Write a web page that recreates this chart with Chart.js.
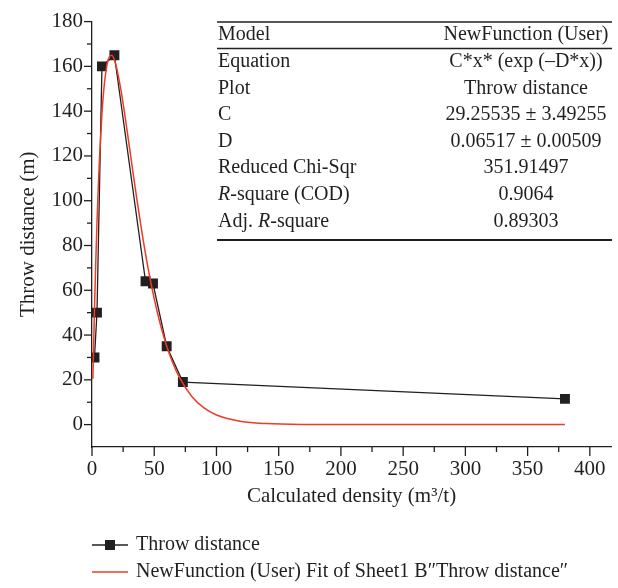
<!DOCTYPE html>
<html>
<head>
<meta charset="UTF-8">
<title>Throw distance fit</title>
<script src="https://cdn.jsdelivr.net/npm/chart.js@4.4.0/dist/chart.umd.min.js"></script>
<style>
  html, body { margin: 0; padding: 0; background: #ffffff; }
  #chart_box { width: 618px; height: 588px; }
</style>
</head>
<body>
<div id="chart_box">
  <canvas id="chart1"></canvas>
</div>
<script>
// measured points (black squares)
const densityX = [2, 4, 8, 18, 43, 49, 60, 73, 380];
const throwY = [30, 50, 160, 165, 64, 63, 35, 19, 11.5];

// red fit curve
const fitX = [0.7, 1, 2, 3, 4, 5, 6, 8, 10, 12, 14, 16, 18, 20, 24, 28, 32, 36, 40, 45, 50, 55, 60, 65, 70, 80, 90, 100, 120, 140, 170, 200, 260, 320, 380];
const fitY = [20.5, 27.4, 51.4, 72.2, 90.2, 105.6, 118.7, 138.9, 152.5, 160.6, 164.4, 165.0, 162.9, 158.9, 146.9, 132.1, 116.3, 100.8, 86.3, 70.0, 56.2, 44.6, 35.1, 27.4, 21.3, 12.7, 7.45, 4.32, 1.41, 0.45, 0.06, 0.01, 0, 0, 0];

const X_MIN = 0, X_MAX = 417, X_STEP = 25, X_LABEL_EVERY = 50;
const Y_MIN = -10, Y_MAX = 180, Y_STEP = 10, Y_LABEL_EVERY = 20;

const X_TITLE = "Calculated density (m\u00B3/t)";
const Y_TITLE = "Throw distance (m)";
const LEGEND_1 = "Throw distance";
const LEGEND_2 = "NewFunction (User) Fit of Sheet1 B\u2033Throw distance\u2033";

// table: left column (parts: [text, italic]) and right column
const tableLeft = [
  [["Model", false]],
  [["Equation", false]],
  [["Plot", false]],
  [["C", false]],
  [["D", false]],
  [["Reduced Chi-Sqr", false]],
  [["R", true], ["-square (COD)", false]],
  [["Adj. ", false], ["R", true], ["-square", false]]
];
const tableRight = [
  "NewFunction (User)",
  "C*x* (exp (\u2013D*x))",
  "Throw distance",
  "29.25535 \u00B1 3.49255",
  "0.06517 \u00B1 0.00509",
  "351.91497",
  "0.9064",
  "0.89303"
];

const INK = '#231f20';
const RED = '#ee3b24';
const SERIF = '"Liberation Serif", "Times New Roman", serif';

function strokeLine(ctx, x1, y1, x2, y2) {
  ctx.beginPath();
  ctx.moveTo(x1, y1);
  ctx.lineTo(x2, y2);
  ctx.stroke();
}

const decorPlugin = {
  id: 'decor',
  afterDraw(chart) {
    const ctx = chart.ctx;
    const xs = chart.scales.x;
    const ys = chart.scales.y;
    const area = chart.chartArea;
    ctx.save();
    ctx.strokeStyle = INK;
    ctx.fillStyle = INK;
    ctx.lineWidth = 1.3;

    // tick marks, long on labelled ticks
    xs.ticks.forEach(t => {
      const px = xs.getPixelForValue(t.value);
      const len = t.value % X_LABEL_EVERY === 0 ? 9 : 5;
      strokeLine(ctx, px, area.bottom, px, area.bottom + len);
    });
    ys.ticks.forEach(t => {
      if (t.value < 0) return;
      const py = ys.getPixelForValue(t.value);
      const len = t.value % Y_LABEL_EVERY === 0 ? 8 : 5;
      strokeLine(ctx, area.left - len, py, area.left, py);
    });

    // axis titles
    ctx.font = '21px ' + SERIF;
    ctx.textAlign = 'center';
    ctx.textBaseline = 'middle';
    ctx.fillText(X_TITLE, (area.left + area.right) / 2, 496);
    ctx.save();
    ctx.translate(28, (area.top + area.bottom) / 2);
    ctx.rotate(-Math.PI / 2);
    ctx.fillText(Y_TITLE, 0, 0);
    ctx.restore();

    // fit table
    const tLeft = 217, tRight = 612, tMid = 526;
    ctx.lineWidth = 1.3;
    strokeLine(ctx, tLeft, 22, tRight, 22);
    strokeLine(ctx, tLeft, 48.5, tRight, 48.5);
    ctx.lineWidth = 1.8;
    strokeLine(ctx, tLeft, 240, tRight, 240);
    const rowY = [35, 62, 88.5, 115, 142, 168, 195, 222];
    rowY.forEach((y, i) => {
      let x = 218;
      ctx.textAlign = 'left';
      tableLeft[i].forEach(part => {
        ctx.font = (part[1] ? 'italic ' : '') + '20px ' + SERIF;
        ctx.fillText(part[0], x, y);
        x += ctx.measureText(part[0]).width;
      });
      ctx.font = '20px ' + SERIF;
      ctx.textAlign = 'center';
      ctx.fillText(tableRight[i], tMid, y);
    });

    // legend
    const lx = 92, ly1 = 545, ly2 = 572;
    ctx.lineWidth = 1.3;
    strokeLine(ctx, lx, ly1, lx + 36, ly1);
    ctx.fillRect(lx + 13, ly1 - 5, 10, 10);
    ctx.strokeStyle = RED;
    ctx.lineWidth = 1.5;
    strokeLine(ctx, lx, ly2, lx + 36, ly2);
    ctx.font = '20px ' + SERIF;
    ctx.textAlign = 'left';
    ctx.fillStyle = INK;
    ctx.fillText(LEGEND_1, lx + 44, ly1);
    ctx.fillText(LEGEND_2, lx + 44, ly2);
    ctx.restore();
  }
};

function toPoints(xs, ys) {
  return xs.map((x, i) => ({ x: x, y: ys[i] }));
}

const ctx1 = document.getElementById('chart1');
const myChart = new Chart(ctx1, {
  type: 'scatter',
  data: {
    datasets: [{
      label: LEGEND_1,
      data: toPoints(densityX, throwY),
      showLine: true,
      borderColor: INK,
      backgroundColor: INK,
      borderWidth: 1.3,
      pointStyle: 'rect',
      pointRadius: 7,
      pointBorderWidth: 0,
      order: 1
    }, {
      label: LEGEND_2,
      data: toPoints(fitX, fitY),
      showLine: true,
      borderColor: RED,
      backgroundColor: RED,
      borderWidth: 1.5,
      pointRadius: 0,
      cubicInterpolationMode: 'monotone',
      order: 0
    }]
  },
  options: {
    responsive: true,
    maintainAspectRatio: false,
    animation: false,
    layout: { padding: { top: 15, right: 3, left: 0, bottom: 0 } },
    plugins: {
      legend: { display: false },
      tooltip: { enabled: false }
    },
    scales: {
      x: {
        type: 'linear',
        position: 'bottom',
        min: X_MIN,
        max: X_MAX,
        grid: { display: false, drawTicks: false },
        border: { display: true, color: INK, width: 1.3 },
        ticks: {
          stepSize: X_STEP,
          includeBounds: false,
          autoSkip: false,
          maxRotation: 0,
          padding: 10,
          color: INK,
          font: { family: SERIF, size: 21 },
          callback: v => (v % X_LABEL_EVERY === 0 ? v : '')
        },
        afterFit(scale) { scale.height = 141; }
      },
      y: {
        type: 'linear',
        min: Y_MIN,
        max: Y_MAX,
        grid: { display: false, drawTicks: false },
        border: { display: true, color: INK, width: 1.3 },
        ticks: {
          stepSize: Y_STEP,
          autoSkip: false,
          padding: 9,
          color: INK,
          font: { family: SERIF, size: 21 },
          callback: v => (v >= 0 && v % Y_LABEL_EVERY === 0 ? v : '')
        },
        afterFit(scale) { scale.width = 92; }
      }
    }
  },
  plugins: [decorPlugin]
});
</script>
</body>
</html>
